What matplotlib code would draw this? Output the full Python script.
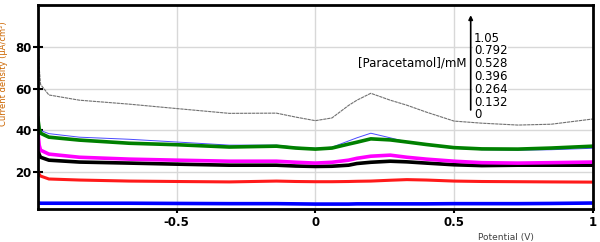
import numpy as np
import matplotlib
matplotlib.use("Agg")
import matplotlib.pyplot as plt

plt.rcParams['axes.unicode_minus'] = False

# potential (V), shared by all traces
pot = [-1.0, -0.995, -0.99, -0.96, -0.85, -0.67, -0.5, -0.31, -0.14, -0.07, 0.0, 0.06,
       0.12, 0.15, 0.2, 0.27, 0.33, 0.4, 0.5, 0.6, 0.73, 0.85, 1.0]

# current density (uA/cm2)
cd_1050 = [88, 70, 62, 57, 54.5, 52.6, 50.5, 48.2, 48.3, 46.4, 44.7, 46,
           52, 54.5, 57.8, 54.5, 52.1, 48.8, 44.5, 43.5, 42.6, 43, 45.5]
cd_0792 = [50, 43, 40, 38.5, 36.8, 35.8, 34.5, 33, 33, 32, 31.5, 32,
           35, 36.5, 38.7, 36.5, 34.5, 33, 31.5, 30.8, 30.6, 30.8, 31.5]
cd_0528 = [46, 41, 38.7, 36.8, 35.4, 33.9, 33.2, 32.1, 32.5, 31.6, 31.1, 31.6,
           33.5, 34.4, 36.0, 35.5, 34.5, 33.3, 31.8, 31.2, 31.1, 31.6, 32.5]
cd_0396 = [40, 33, 30.6, 28.7, 27.2, 26.3, 25.8, 25.3, 25.3, 24.8, 24.4, 24.8,
           25.8, 26.7, 27.7, 28.2, 27.2, 26.3, 25.3, 24.6, 24.4, 24.6, 24.9]
cd_0264 = [31, 28.5, 27.2, 25.8, 24.9, 24.4, 23.9, 23.4, 23.4, 23.0, 22.8, 22.9,
           23.4, 24.2, 24.8, 25.3, 25.0, 24.4, 23.6, 23.2, 23.4, 23.4, 23.4]
cd_0132 = [21, 19, 18.2, 16.8, 16.3, 15.8, 15.6, 15.4, 15.8, 15.6, 15.5, 15.5,
           15.6, 15.7, 15.8, 16.2, 16.5, 16.3, 15.8, 15.6, 15.5, 15.4, 15.3]
cd_0000 = [5.5, 5.3, 5.2, 5.2, 5.2, 5.2, 5.1, 5.0, 5.0, 4.9, 4.8, 4.8,
           4.8, 4.9, 4.9, 4.9, 4.9, 4.9, 5.0, 5.0, 5.0, 5.1, 5.3]

conc_labels = ['1.05', '0.792', '0.528', '0.396', '0.264', '0.132', '0']

fig = plt.figure(figsize=(6, 2.42), dpi=100)
ax = fig.add_axes([0.063, 0.136, 0.925, 0.843])

ax.plot(pot, cd_0000, color='#0000ff', lw=2.6)
ax.plot(pot, cd_0132, color='#ff1a1a', lw=2.2)
ax.plot(pot, cd_0264, color='black', lw=2.6)
ax.plot(pot, cd_0396, color='#ff00ff', lw=2.6)
ax.plot(pot, cd_0792, color='#4a4aff', lw=0.7)
ax.plot(pot, cd_0528, color='#008000', lw=2.6)
ax.plot(pot, cd_1050, color='#707070', lw=0.8, ls=(0, (3, 0.6)))

ax.set_xlim(-1, 1)
ax.set_ylim(2.4, 100)
ax.set_xticks([-0.5, 0, 0.5, 1])
ax.set_xticklabels(['-0.5', '0', '0.5', '1'])
ax.set_yticks([20, 40, 60, 80])
ax.grid(True, color='#d8d8d8', lw=1)
ax.set_axisbelow(True)
for s in ax.spines.values():
    s.set_linewidth(2)
ax.tick_params(axis='y', direction='inout', length=7, width=1.5, pad=1, labelsize=8.5)
ax.tick_params(axis='x', direction='out', length=3, width=1.5, pad=2, labelsize=8.5)
for lab in ax.get_xticklabels() + ax.get_yticklabels():
    lab.set_fontweight('bold')

ax.set_ylabel('Current density (\u03bcA/cm\u00b2)', fontsize=6.0, color='#cc6600')
ax.yaxis.set_label_coords(-0.054, 0.665)
ax.set_xlabel('Potential (V)', fontsize=6.5, color='#404040')
ax.xaxis.set_label_coords(0.843, -0.115)

# concentration annotation
ax.annotate('', xy=(0.56, 96.5), xytext=(0.56, 48.5),
            arrowprops=dict(arrowstyle='-|>', color='black', lw=1.2, mutation_scale=6))
ax.text(0.153, 72.3, '[Paracetamol]/mM', fontsize=8.5, va='center', ha='left')
ax.text(0.571, 65.8, '\n'.join(conc_labels), fontsize=8.5, va='center', ha='left',
        linespacing=0.98, bbox=dict(facecolor='white', edgecolor='none', pad=0.3))

fig.savefig('out.png', dpi=100)
